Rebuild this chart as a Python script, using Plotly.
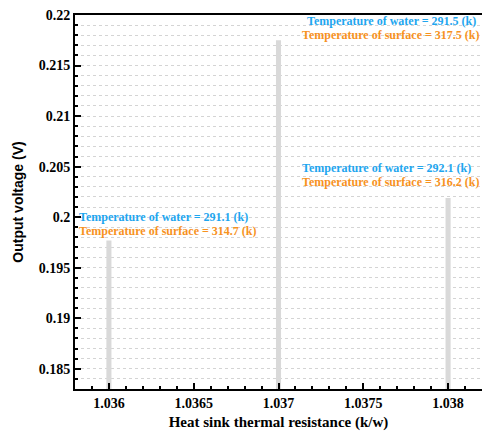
import plotly.graph_objects as go

resistance = [1.036, 1.037, 1.038]
voltage = [0.1977, 0.2175, 0.2019]
water_temp = ["291.1", "291.5", "292.1"]
surface_temp = ["314.7", "317.5", "316.2"]

BLUE = "#1ea6ef"
ORANGE = "#f7921e"
FONT = "Liberation Serif, Times New Roman, serif"
SANS = "Liberation Sans, Arial, sans-serif"

fig = go.Figure()
fig.add_trace(go.Bar(
    x=resistance, y=voltage, width=0.00003,
    marker=dict(color="#d9d9d9", line=dict(width=0)),
    base=0, showlegend=False))

# annotation placement: (x, anchor, y_water, y_surface, x_surface)
ann_pos = [
    (1.03581, "left", 0.2000, 0.19861, 1.03581),
    (1.038176, "right", 0.2194, 0.21802, 1.038194),
    (1.038147, "right", 0.20485, 0.20347, 1.038194),
]
for (ax, anc, yw, ys, axs), w, s in zip(ann_pos, water_temp, surface_temp):
    fig.add_annotation(x=ax, y=yw, xref="x", yref="y", xanchor=anc, yanchor="middle",
                       text=f"Temperature of water = {w} (k)", showarrow=False,
                       font=dict(family=FONT, size=12, color=BLUE, weight="bold"))
    fig.add_annotation(x=axs, y=ys, xref="x", yref="y", xanchor=anc, yanchor="middle",
                       text=f"Temperature of surface = {s} (k)", showarrow=False,
                       font=dict(family=FONT, size=12, color=ORANGE, weight="bold"))

fig.update_layout(
    width=482, height=433,
    margin=dict(l=75, r=0, t=15, b=44),
    plot_bgcolor="white", paper_bgcolor="white",
    font=dict(family=FONT, size=12, color="black"),
    xaxis=dict(
        range=[1.0358, 1.0382], dtick=0.0005, tick0=1.036,
        showline=True, linecolor="black", linewidth=2, mirror=True,
        ticks="inside", ticklen=6, tickwidth=2, tickcolor="black",
        showgrid=False, zeroline=False,
        tickfont=dict(family=FONT, size=14, color="black", weight="bold"),
        title=dict(text="<b>Heat sink thermal resistance (k/w)</b>", standoff=7,
                   font=dict(family=FONT, size=15)),
        minor=dict(dtick=0.0001, ticks="inside", ticklen=3, tickcolor="black", showgrid=False),
    ),
    yaxis=dict(
        range=[0.183, 0.22], dtick=0.005, tick0=0.185,
        showline=True, linecolor="black", linewidth=2,
        ticks="inside", ticklen=6, tickwidth=2, tickcolor="black",
        showgrid=True, gridcolor="#d4d4d4", griddash="dot", gridwidth=1,
        zeroline=False,
        tickfont=dict(family=FONT, size=14, color="black", weight="bold"),
        title=dict(text="<b>Output voltage (V)</b>", standoff=12,
                   font=dict(family=SANS, size=14)),
        minor=dict(dtick=0.001, ticks="inside", ticklen=3, tickcolor="black",
                   showgrid=True, gridcolor="#d4d4d4", griddash="dot", gridwidth=1),
    ),
)

fig.write_html("out.html", config={"displayModeBar": False},
               post_script="document.body.style.margin='0';")
